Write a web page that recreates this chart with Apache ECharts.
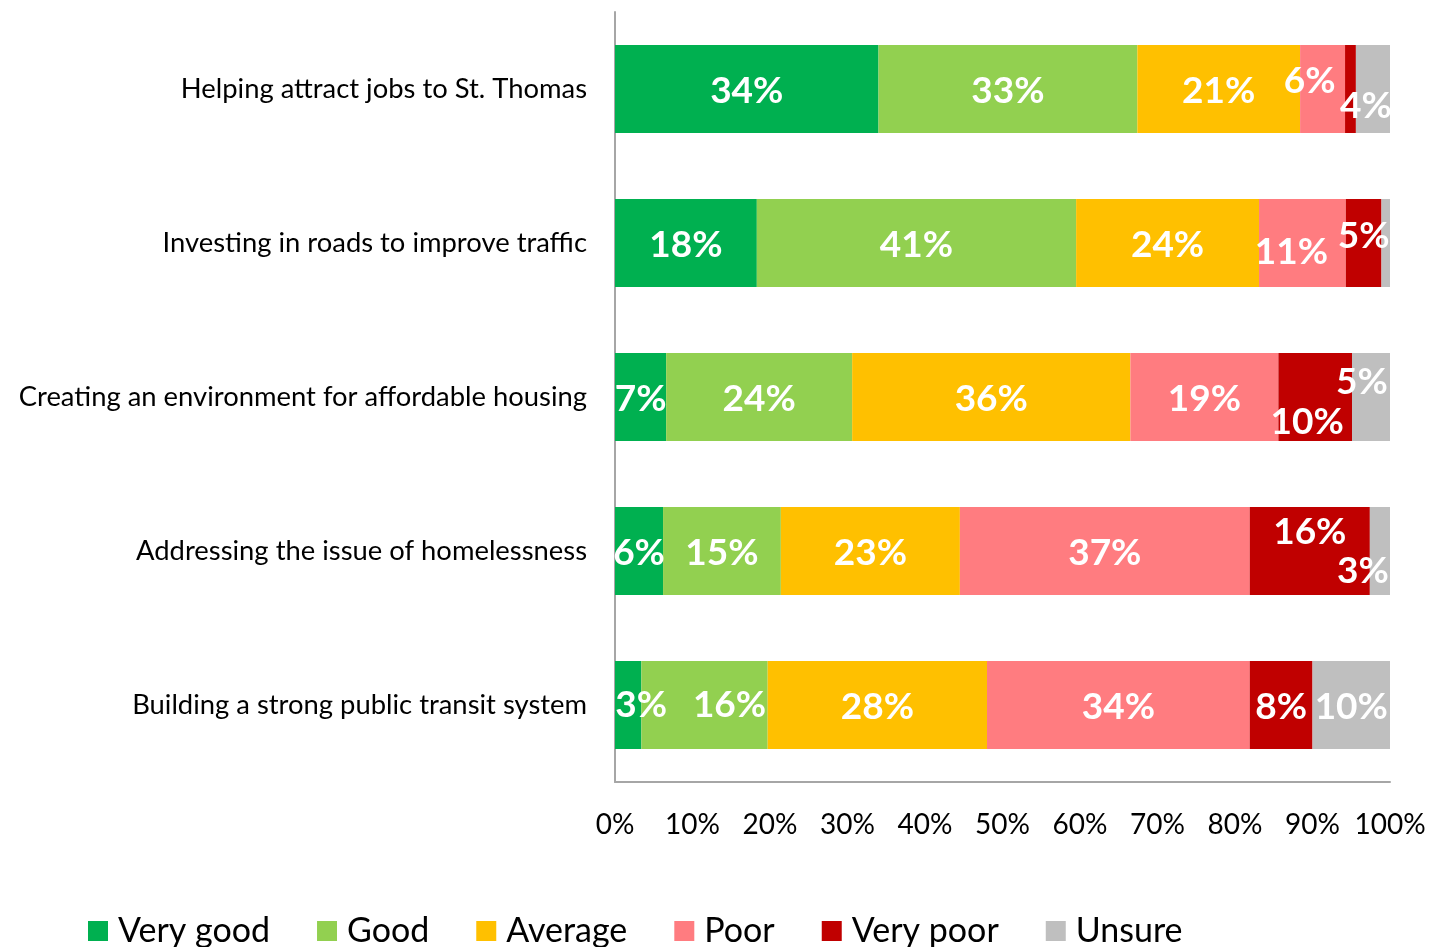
<!DOCTYPE html>
<html>
<head>
<meta charset="utf-8">
<script src="https://cdn.jsdelivr.net/npm/echarts@6/dist/echarts.min.js"></script>
<style>
html,body{margin:0;padding:0;background:#fff;}
#chart{width:1429px;height:947px;}
</style>
</head>
<body>
<div id="chart"></div>
<script>
const categories = [
  'Helping attract jobs to St. Thomas',
  'Investing in roads to improve traffic',
  'Creating an environment for affordable housing',
  'Addressing the issue of homelessness',
  'Building a strong public transit system'
];
const seriesNames = ['Very good', 'Good', 'Average', 'Poor', 'Very poor', 'Unsure'];
const veryGood = [34.0, 18.3, 6.6, 6.2, 3.4];
const good     = [33.4, 41.2, 24.0, 15.2, 16.3];
const average  = [21.0, 23.6, 35.9, 23.1, 28.3];
const poor     = [5.8, 11.2, 19.1, 37.4, 33.9];
const veryPoor = [1.4, 4.6, 9.5, 15.5, 8.1];
const unsure   = [4.4, 1.1, 4.9, 2.6, 10.0];
const xTicks = [0, 10, 20, 30, 40, 50, 60, 70, 80, 90, 100];

const colors = ['#00B050', '#92D050', '#FFC000', '#FF7C80', '#C00000', '#BFBFBF'];
const allValues = [veryGood, good, average, poor, veryPoor, unsure];

// label nudges (layout only): [seriesIndex][rowIndex] -> [dx, dy]
const labelNudge = {
  0: {4: [13, 0]},
  1: {4: [25, 0]},
  3: {0: [-13, -8], 1: [-11, 9]},
  4: {1: [0, -7], 2: [-8, 25], 3: [0, -19]},
  5: {0: [-7, 17], 2: [-9, -15], 3: [-17, 20]}
};

const FONT = 'Lato, "Open Sans", sans-serif';

const series = allValues.map((vals, si) => ({
  name: seriesNames[si],
  type: 'bar',
  stack: 'total',
  barWidth: 88,
  itemStyle: {color: colors[si]},
  data: vals.map((v, ri) => {
    const nudge = (labelNudge[si] && labelNudge[si][ri]) || [0, 2];
    return {
      value: v,
      label: {
        show: v >= 2,
        position: 'inside',
        offset: nudge,
        formatter: () => Math.round(v) + '%',
        color: '#fff',
        fontWeight: 'bold',
        fontSize: 37,
        fontFamily: FONT
      }
    };
  })
}));

const chart = echarts.init(document.getElementById('chart'), null, {renderer: 'canvas'});
chart.setOption({
  animation: false,
  color: colors,
  grid: {left: 615, right: 39, top: 12, bottom: 165, containLabel: false},
  xAxis: {
    type: 'value',
    min: 0, max: 100, interval: 10,
    axisLine: {show: true, lineStyle: {color: '#A6A6A6', width: 2}},
    axisTick: {show: false},
    splitLine: {show: false},
    axisLabel: {
      margin: 29,
      color: '#000',
      fontSize: 28,
      fontFamily: FONT,
      formatter: (v) => (xTicks.indexOf(v) >= 0 ? v + '%' : '')
    }
  },
  yAxis: {
    type: 'category',
    inverse: true,
    data: categories,
    axisLine: {show: true, lineStyle: {color: '#A6A6A6', width: 2}},
    axisTick: {show: false},
    axisLabel: {
      margin: 28,
      color: '#000',
      fontSize: 27.4,
      fontFamily: FONT
    }
  },
  legend: {
    data: seriesNames,
    left: 88,
    top: 914,
    padding: 0,
    itemWidth: 20,
    itemHeight: 20,
    itemGap: 47,
    icon: 'rect',
    textStyle: {fontSize: 34, fontFamily: FONT, color: '#000', padding: [0, 0, 0, 5]}
  },
  series: series
});
</script>
</body>
</html>
